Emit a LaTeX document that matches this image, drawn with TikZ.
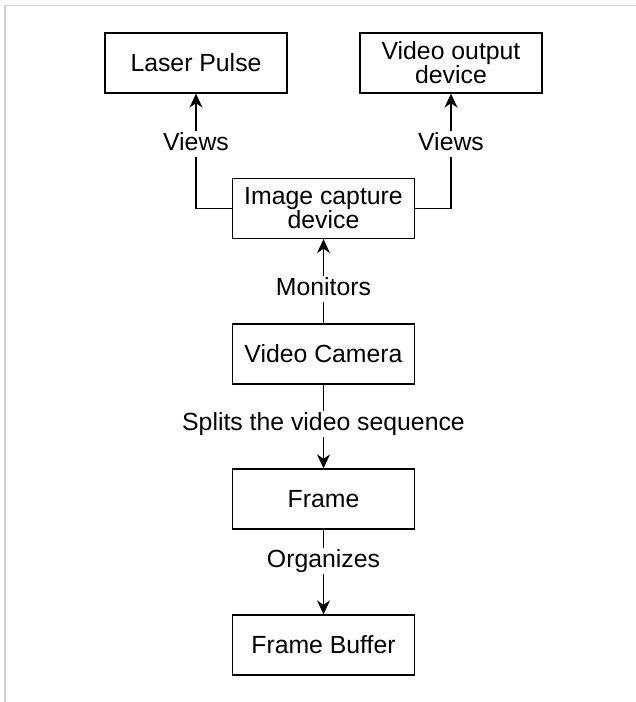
\documentclass[tikz,border=0pt]{standalone}
\usepackage{fontspec}
\setmainfont{Liberation Sans}
\usetikzlibrary{arrows.meta}

\tikzset{
  box/.style={draw=black, line width=1.3pt, minimum width=182pt, minimum height=60pt,
              inner sep=0pt, align=center, font=\fontsize{24.8}{22.8}\selectfont},
  lbl/.style={fill=white, inner sep=1.5pt, text height=18pt, text depth=5pt,
              font=\fontsize{24.8}{22.8}\selectfont},
  arr/.style={draw=black, line width=1.3pt,
              -{Stealth[length=14pt, width=13pt, inset=4.5pt]}},
}

\begin{document}
\begin{tikzpicture}[x=1pt, y=-1pt]
  \useasboundingbox (0,0) rectangle (636,702);
  % light frame on the top and left edges
  \draw[black!18, line width=1.6pt] (5,702) -- (5,5.5) -- (636,5.5);

  % boxes
  \node[box] (lp)    at (196,63)    {Laser Pulse};
  \node[box] (vod)   at (451,63)    {Video output\\device};
  \node[box] (icd)   at (323.5,208.5) {Image capture\\device};
  \node[box] (cam)   at (323.5,354) {Video Camera};
  \node[box] (frame) at (323.5,499) {Frame};
  \node[box] (fb)    at (323.5,645) {Frame Buffer};

  % connectors
  \draw[arr] (icd.west) -| node[lbl, pos=0.781] {Views} (lp.south);
  \draw[arr] (icd.east) -| node[lbl, pos=0.781] {Views} (vod.south);
  \draw[arr] (cam.north) -- node[lbl, pos=0.41] {Monitors} (icd.south);
  \draw[arr] (cam.south) -- node[lbl, pos=0.476] {Splits the video sequence} (frame.north);
  \draw[arr] (frame.south) -- node[lbl, pos=0.374] {Organizes} (fb.north);
\end{tikzpicture}
\end{document}
